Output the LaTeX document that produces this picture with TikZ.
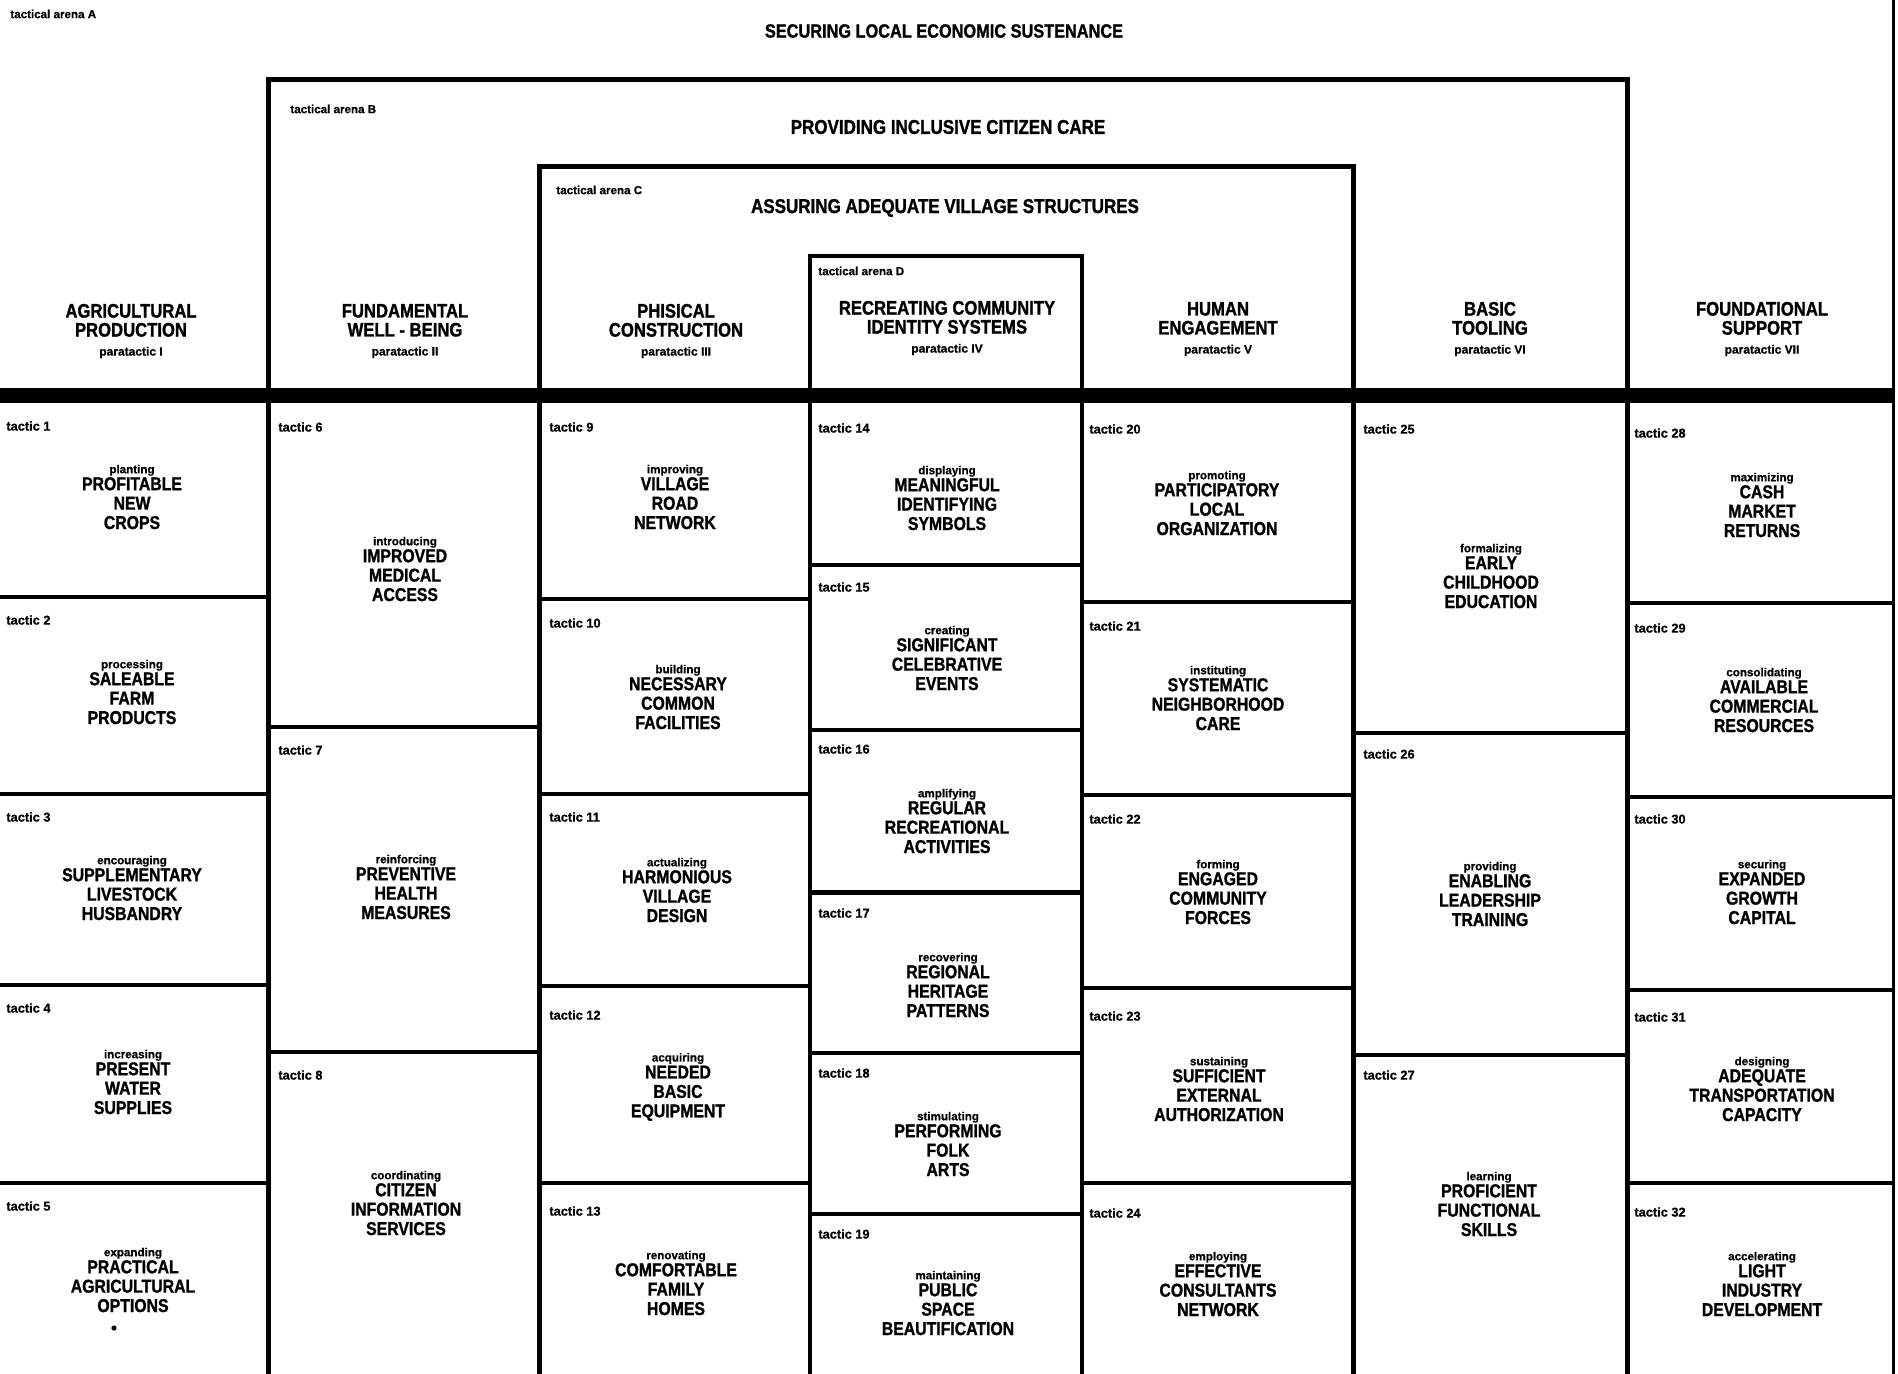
\documentclass[tikz,border=0pt]{standalone}
\usepackage{fontspec}
\setmainfont{Liberation Sans}[BoldFeatures={FakeBold=0.8}]
\newfontfamily\capsfont{Liberation Sans}[FakeStretch=0.85, BoldFeatures={FakeBold=1.2}]
\usepackage{tikz}
\usetikzlibrary{positioning}

\newcommand{\gerund}[1]{{\normalfont\bfseries\fontsize{5.8}{7}\selectfont #1}}
\newcommand{\para}[1]{{\normalfont\bfseries\fontsize{6}{7}\selectfont #1}}

\tikzset{
  arena/.style={line width=2.5pt, line join=miter},
  innerarena/.style={line width=2pt, line join=miter},
  divider/.style={line width=1.7pt},
  arenalabel/.style={anchor=west, inner sep=0pt, font=\bfseries\fontsize{5.8}{7}\selectfont},
  tacticlabel/.style={anchor=west, inner sep=0pt, font=\bfseries\fontsize{6.4}{7}\selectfont},
  arenatitle/.style={inner sep=0pt, font=\capsfont\bfseries\fontsize{10}{10}\selectfont},
  paraheading/.style={inner sep=0pt, align=center, font=\capsfont\bfseries\fontsize{9.8}{9.5}\selectfont},
  tactictext/.style={inner sep=0pt, align=center, font=\capsfont\bfseries\fontsize{9.3}{9.7}\selectfont},
}

\begin{document}
\begin{tikzpicture}[x=0.5pt,y=-0.5pt]
  \useasboundingbox (0,0) rectangle (1898,1374);

  % nested arenas, open at the bottom
  \draw[arena] (268,1374) |- (1627,80) -- (1627,1374);
  \draw[arena] (539,1374) |- (1353,167) -- (1353,1374);
  \draw[innerarena] (810,1374) |- (1082,256) -- (1082,1374);
  \draw[line width=1.5pt] (1893,0) -- (1893,1374);
  \fill (0,388) rectangle (1893,403);

  \node[arenalabel] (arenaA) at (10,14) {tactical arena  A};
  \node[arenalabel] (arenaB) at (290,109) {tactical arena B};
  \node[arenalabel] (arenaC) at (556,190) {tactical arena C};
  \node[arenalabel] (arenaD) at (818,271) {tactical arena D};
  \node[arenatitle, font=\capsfont\bfseries\fontsize{9.6}{10}\selectfont] (titleA) at (944,31) {SECURING LOCAL ECONOMIC SUSTENANCE};
  \node[arenatitle] (titleB) at (948,127) {PROVIDING INCLUSIVE CITIZEN CARE};
  \node[arenatitle] (titleC) at (945,208) {ASSURING ADEQUATE VILLAGE STRUCTURES};

  % paratactic headings
  \node[paraheading] (para1) at (131,331) {AGRICULTURAL\\PRODUCTION\\\para{paratactic  I}};
  \node[paraheading] (para2) at (405,331) {FUNDAMENTAL\\WELL - BEING\\\para{paratactic  II}};
  \node[paraheading] (para3) at (676,331) {PHISICAL\\CONSTRUCTION\\\para{paratactic  III}};
  \node[paraheading] (para4) at (947,328) {RECREATING COMMUNITY\\IDENTITY SYSTEMS\\\para{paratactic  IV}};
  \node[paraheading] (para5) at (1218,329) {HUMAN\\ENGAGEMENT\\\para{paratactic  V}};
  \node[paraheading] (para6) at (1490,329) {BASIC\\TOOLING\\\para{paratactic  VI}};
  \node[paraheading] (para7) at (1762,329) {FOUNDATIONAL\\SUPPORT\\\para{paratactic  VII}};

  % cell dividers
  \draw[divider] (0,597) -- (268,597) (0,794) -- (268,794) (0,985) -- (268,985) (0,1183) -- (268,1183);
  \draw[divider] (268,727) -- (539,727) (268,1052) -- (539,1052);
  \draw[divider] (539,599) -- (810,599) (539,794) -- (810,794) (539,986) -- (810,986) (539,1183) -- (810,1183);
  \draw[divider] (810,565) -- (1082,565) (810,730) -- (1082,730) (810,1053) -- (1082,1053) (810,1214) -- (1082,1214);
  \draw[line width=2.5pt] (810,892) -- (1082,892);
  \draw[divider] (1082,602) -- (1353,602) (1082,795) -- (1353,795) (1082,988) -- (1353,988) (1082,1183) -- (1353,1183);
  \draw[divider] (1353,733) -- (1627,733) (1353,1055) -- (1627,1055);
  \draw[divider] (1627,603) -- (1893,603) (1627,797) -- (1893,797) (1627,990) -- (1893,990) (1627,1183) -- (1893,1183);

  % paratactic I
  \node[tacticlabel] (lab1) at (6,426) {tactic 1};
  \node[tactictext] (tac1) at (132,497) {\gerund{planting}\\[-1.2pt]PROFITABLE\\NEW\\CROPS};
  \node[tacticlabel] (lab2) at (6,620) {tactic 2};
  \node[tactictext] (tac2) at (132,692) {\gerund{processing}\\[-1.2pt]SALEABLE\\FARM\\PRODUCTS};
  \node[tacticlabel] (lab3) at (6,817) {tactic 3};
  \node[tactictext] (tac3) at (132,888) {\gerund{encouraging}\\[-1.2pt]SUPPLEMENTARY\\LIVESTOCK\\HUSBANDRY};
  \node[tacticlabel] (lab4) at (6,1008) {tactic 4};
  \node[tactictext] (tac4) at (133,1082) {\gerund{increasing}\\[-1.2pt]PRESENT\\WATER\\SUPPLIES};
  \node[tacticlabel] (lab5) at (6,1206) {tactic 5};
  \node[tactictext] (tac5) at (133,1280) {\gerund{expanding}\\[-1.2pt]PRACTICAL\\AGRICULTURAL\\OPTIONS};
  \fill (114,1328) circle[radius=1.3pt];

  % paratactic II
  \node[tacticlabel] (lab6) at (278,427) {tactic 6};
  \node[tactictext] (tac6) at (405,569) {\gerund{introducing}\\[-1.2pt]IMPROVED\\MEDICAL\\ACCESS};
  \node[tacticlabel] (lab7) at (278,750) {tactic 7};
  \node[tactictext] (tac7) at (406,887) {\gerund{reinforcing}\\[-1.2pt]PREVENTIVE\\HEALTH\\MEASURES};
  \node[tacticlabel] (lab8) at (278,1075) {tactic 8};
  \node[tactictext] (tac8) at (406,1203) {\gerund{coordinating}\\[-1.2pt]CITIZEN\\INFORMATION\\SERVICES};

  % paratactic III
  \node[tacticlabel] (lab9) at (549,427) {tactic 9};
  \node[tactictext] (tac9) at (675,497) {\gerund{improving}\\[-1.2pt]VILLAGE\\ROAD\\NETWORK};
  \node[tacticlabel] (lab10) at (549,623) {tactic 10};
  \node[tactictext] (tac10) at (678,697) {\gerund{building}\\[-1.2pt]NECESSARY\\COMMON\\FACILITIES};
  \node[tacticlabel] (lab11) at (549,817) {tactic 11};
  \node[tactictext] (tac11) at (677,890) {\gerund{actualizing}\\[-1.2pt]HARMONIOUS\\VILLAGE\\DESIGN};
  \node[tacticlabel] (lab12) at (549,1015) {tactic 12};
  \node[tactictext] (tac12) at (678,1087) {\gerund{acquiring}\\[-1.2pt]NEEDED\\BASIC\\EQUIPMENT};
  \node[tacticlabel] (lab13) at (549,1211) {tactic 13};
  \node[tactictext] (tac13) at (676,1283) {\gerund{renovating}\\[-1.2pt]COMFORTABLE\\FAMILY\\HOMES};

  % paratactic IV
  \node[tacticlabel] (lab14) at (818,428) {tactic 14};
  \node[tactictext] (tac14) at (947,498) {\gerund{displaying}\\[-1.2pt]MEANINGFUL\\IDENTIFYING\\SYMBOLS};
  \node[tacticlabel] (lab15) at (818,587) {tactic 15};
  \node[tactictext] (tac15) at (947,658) {\gerund{creating}\\[-1.2pt]SIGNIFICANT\\CELEBRATIVE\\EVENTS};
  \node[tacticlabel] (lab16) at (818,749) {tactic 16};
  \node[tactictext] (tac16) at (947,821) {\gerund{amplifying}\\[-1.2pt]REGULAR\\RECREATIONAL\\ACTIVITIES};
  \node[tacticlabel] (lab17) at (818,913) {tactic 17};
  \node[tactictext] (tac17) at (948,985) {\gerund{recovering}\\[-1.2pt]REGIONAL\\HERITAGE\\PATTERNS};
  \node[tacticlabel] (lab18) at (818,1073) {tactic 18};
  \node[tactictext] (tac18) at (948,1144) {\gerund{stimulating}\\[-1.2pt]PERFORMING\\FOLK\\ARTS};
  \node[tacticlabel] (lab19) at (818,1234) {tactic 19};
  \node[tactictext] (tac19) at (948,1303) {\gerund{maintaining}\\[-1.2pt]PUBLIC\\SPACE\\BEAUTIFICATION};

  % paratactic V
  \node[tacticlabel] (lab20) at (1089,429) {tactic 20};
  \node[tactictext] (tac20) at (1217,503) {\gerund{promoting}\\[-1.2pt]PARTICIPATORY\\LOCAL\\ORGANIZATION};
  \node[tacticlabel] (lab21) at (1089,626) {tactic 21};
  \node[tactictext] (tac21) at (1218,698) {\gerund{instituting}\\[-1.2pt]SYSTEMATIC\\NEIGHBORHOOD\\CARE};
  \node[tacticlabel] (lab22) at (1089,819) {tactic 22};
  \node[tactictext] (tac22) at (1218,892) {\gerund{forming}\\[-1.2pt]ENGAGED\\COMMUNITY\\FORCES};
  \node[tacticlabel] (lab23) at (1089,1016) {tactic 23};
  \node[tactictext] (tac23) at (1219,1089) {\gerund{sustaining}\\[-1.2pt]SUFFICIENT\\EXTERNAL\\AUTHORIZATION};
  \node[tacticlabel] (lab24) at (1089,1213) {tactic 24};
  \node[tactictext] (tac24) at (1218,1284) {\gerund{employing}\\[-1.2pt]EFFECTIVE\\CONSULTANTS\\NETWORK};

  % paratactic VI
  \node[tacticlabel] (lab25) at (1363,429) {tactic 25};
  \node[tactictext] (tac25) at (1491,576) {\gerund{formalizing}\\[-1.2pt]EARLY\\CHILDHOOD\\EDUCATION};
  \node[tacticlabel] (lab26) at (1363,754) {tactic 26};
  \node[tactictext] (tac26) at (1490,894) {\gerund{providing}\\[-1.2pt]ENABLING\\LEADERSHIP\\TRAINING};
  \node[tacticlabel] (lab27) at (1363,1075) {tactic 27};
  \node[tactictext] (tac27) at (1489,1204) {\gerund{learning}\\[-1.2pt]PROFICIENT\\FUNCTIONAL\\SKILLS};

  % paratactic VII
  \node[tacticlabel] (lab28) at (1634,433) {tactic 28};
  \node[tactictext] (tac28) at (1762,505) {\gerund{maximizing}\\[-1.2pt]CASH\\MARKET\\RETURNS};
  \node[tacticlabel] (lab29) at (1634,628) {tactic 29};
  \node[tactictext] (tac29) at (1764,700) {\gerund{consolidating}\\[-1.2pt]AVAILABLE\\COMMERCIAL\\RESOURCES};
  \node[tacticlabel] (lab30) at (1634,819) {tactic 30};
  \node[tactictext] (tac30) at (1762,892) {\gerund{securing}\\[-1.2pt]EXPANDED\\GROWTH\\CAPITAL};
  \node[tacticlabel] (lab31) at (1634,1017) {tactic 31};
  \node[tactictext] (tac31) at (1762,1089) {\gerund{designing}\\[-1.2pt]ADEQUATE\\TRANSPORTATION\\CAPACITY};
  \node[tacticlabel] (lab32) at (1634,1212) {tactic 32};
  \node[tactictext] (tac32) at (1762,1284) {\gerund{accelerating}\\[-1.2pt]LIGHT\\INDUSTRY\\DEVELOPMENT};
\end{tikzpicture}
\end{document}
